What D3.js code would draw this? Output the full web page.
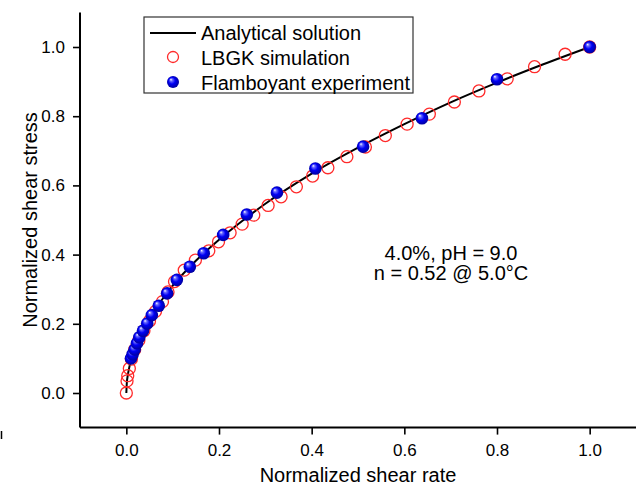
<!DOCTYPE html>
<html>
<head>
<meta charset="utf-8">
<script src="https://cdn.jsdelivr.net/npm/d3@7"></script>
<style>
  html, body { margin: 0; padding: 0; background: #fff; }
  svg { display: block; font-family: "Liberation Sans", Arial, sans-serif; }
</style>
</head>
<body>
<svg id="chart" width="638" height="490"></svg>
<script>
// ---- Data ----
const lineX = [0, 0.001, 0.003, 0.006, 0.01, 0.02, 0.03, 0.05, 0.075, 0.1, 0.15, 0.2, 0.25, 0.3, 0.4, 0.5, 0.6, 0.7, 0.8, 0.9, 1.0];
const lineY = [0, 0.028, 0.05, 0.072, 0.094, 0.134, 0.165, 0.215, 0.266, 0.31, 0.382, 0.443, 0.497, 0.547, 0.634, 0.709, 0.777, 0.840, 0.897, 0.950, 1.0];

const lbgkX = [0, 0.0015, 0.003, 0.0065, 0.011, 0.018, 0.027, 0.038, 0.050, 0.063, 0.078, 0.09, 0.104, 0.125, 0.149, 0.178, 0.199, 0.224, 0.250, 0.275, 0.306, 0.334, 0.367, 0.402, 0.435, 0.476, 0.516, 0.559, 0.606, 0.654, 0.708, 0.761, 0.822, 0.881, 0.947, 1.0];
const lbgkY = [0, 0.035, 0.05, 0.071, 0.098, 0.125, 0.152, 0.18, 0.208, 0.236, 0.264, 0.292, 0.322, 0.355, 0.384, 0.411, 0.437, 0.463, 0.488, 0.514, 0.542, 0.567, 0.596, 0.627, 0.651, 0.683, 0.711, 0.744, 0.777, 0.806, 0.841, 0.873, 0.908, 0.943, 0.979, 1.0];

const expX = [0.010, 0.0136, 0.018, 0.023, 0.028, 0.036, 0.045, 0.055, 0.070, 0.088, 0.109, 0.137, 0.167, 0.209, 0.260, 0.325, 0.408, 0.511, 0.638, 0.800, 1.0];
const expY = [0.100, 0.112, 0.126, 0.144, 0.161, 0.180, 0.201, 0.225, 0.252, 0.288, 0.327, 0.365, 0.404, 0.457, 0.516, 0.579, 0.649, 0.712, 0.794, 0.907, 1.0];

const majorTicks = [0, 0.2, 0.4, 0.6, 0.8, 1.0];
const minorTicks = [-0.1, 0.1, 0.3, 0.5, 0.7, 0.9, 1.1];
const legendLabels = ["Analytical solution", "LBGK simulation", "Flamboyant experiment"];
const noteLines = ["4.0%, pH = 9.0", "n = 0.52 @ 5.0°C"];
const xTitle = "Normalized shear rate";
const yTitle = "Normalized shear stress";

// ---- Layout ----
const svg = d3.select("#chart");
const x = d3.scaleLinear().domain([-0.1, 1.1]).range([80, 636]);
const y = d3.scaleLinear().domain([-0.1, 1.1]).range([427.6, 12.4]);
const fmt = d3.format(".1f");

// defs: shaded ball
const defs = svg.append("defs");
const grad = defs.append("radialGradient").attr("id", "ball")
  .attr("cx", "50%").attr("cy", "50%").attr("r", "55%")
  .attr("fx", "32%").attr("fy", "28%");
grad.append("stop").attr("offset", "0%").attr("stop-color", "#ffffff");
grad.append("stop").attr("offset", "20%").attr("stop-color", "#6a6aff");
grad.append("stop").attr("offset", "50%").attr("stop-color", "#0000f4");
grad.append("stop").attr("offset", "100%").attr("stop-color", "#000090");

// axes
const gx = svg.append("g").attr("transform", `translate(0,${y(-0.1)})`);
gx.call(d3.axisBottom(x).tickValues(minorTicks).tickSize(4).tickSizeOuter(0).tickFormat(""));
gx.call(d3.axisBottom(x).tickValues(majorTicks).tickSize(7).tickSizeOuter(0).tickPadding(9).tickFormat(fmt));
const gy = svg.append("g").attr("transform", `translate(${x(-0.1)},0)`);
gy.call(d3.axisLeft(y).tickValues(minorTicks).tickSize(4).tickSizeOuter(0).tickFormat(""));
gy.call(d3.axisLeft(y).tickValues(majorTicks).tickSize(7).tickSizeOuter(0).tickPadding(8).tickFormat(fmt));
svg.selectAll(".domain").remove();
svg.selectAll(".tick line").attr("stroke", "#000").attr("stroke-width", 1.6);
svg.selectAll(".tick text").attr("font-size", 17).attr("fill", "#000")
  .attr("font-family", "'Liberation Sans', Arial, sans-serif");
svg.append("line").attr("x1", x(-0.1)).attr("x2", x(1.1)).attr("y1", y(-0.1)).attr("y2", y(-0.1))
  .attr("stroke", "#000").attr("stroke-width", 2);
svg.append("line").attr("x1", x(-0.1)).attr("x2", x(-0.1)).attr("y1", y(-0.1)).attr("y2", y(1.1))
  .attr("stroke", "#000").attr("stroke-width", 2);

// small stray mark at the left edge of the reference
svg.append("line").attr("x1", 1.5).attr("x2", 1.5).attr("y1", 431).attr("y2", 439)
  .attr("stroke", "#000").attr("stroke-width", 1.5);

// axis titles
svg.append("text").attr("x", (x(-0.1) + x(1.1)) / 2).attr("y", 482)
  .attr("text-anchor", "middle").attr("font-size", 20).text(xTitle);
svg.append("text").attr("transform", `translate(37,${(y(-0.1) + y(1.1)) / 2}) rotate(-90)`)
  .attr("text-anchor", "middle").attr("font-size", 20).text(yTitle);

// analytical line
const lineData = lineX.map((v, i) => [v, lineY[i]]);
svg.append("path").datum(lineData)
  .attr("d", d3.line().x(d => x(d[0])).y(d => y(d[1])).curve(d3.curveMonotoneX))
  .attr("fill", "none").attr("stroke", "#000").attr("stroke-width", 2);

// LBGK open circles
svg.append("g").selectAll("circle").data(lbgkX.map((v, i) => [v, lbgkY[i]])).join("circle")
  .attr("cx", d => x(d[0])).attr("cy", d => y(d[1])).attr("r", 6)
  .attr("fill", "none").attr("stroke", "#ff2a2a").attr("stroke-width", 1.3);

// experiment balls
svg.append("g").selectAll("circle").data(expX.map((v, i) => [v, expY[i]])).join("circle")
  .attr("cx", d => x(d[0])).attr("cy", d => y(d[1])).attr("r", 6.3)
  .attr("fill", "url(#ball)");

// legend
const lg = svg.append("g");
lg.append("rect").attr("x", 144).attr("y", 17).attr("width", 269).attr("height", 76)
  .attr("fill", "#fff").attr("stroke", "#333").attr("stroke-width", 1.2);
lg.append("line").attr("x1", 150).attr("x2", 196).attr("y1", 33).attr("y2", 33)
  .attr("stroke", "#000").attr("stroke-width", 2);
lg.append("circle").attr("cx", 173).attr("cy", 57).attr("r", 5.5)
  .attr("fill", "none").attr("stroke", "#ff2a2a").attr("stroke-width", 1.3);
lg.append("circle").attr("cx", 173).attr("cy", 82).attr("r", 6).attr("fill", "url(#ball)");
lg.selectAll("text.lab").data(legendLabels).join("text").attr("class", "lab")
  .attr("x", 201).attr("y", (d, i) => 39.5 + i * 25).attr("font-size", 20).text(d => d);

// annotation
svg.selectAll("text.note").data(noteLines).join("text").attr("class", "note")
  .attr("x", 451).attr("y", (d, i) => 260 + i * 20)
  .attr("text-anchor", "middle").attr("font-size", 20).text(d => d);
</script>
</body>
</html>
